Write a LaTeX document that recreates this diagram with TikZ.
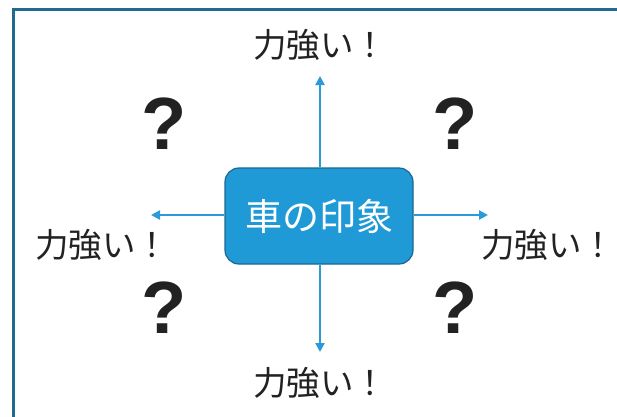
\documentclass[tikz,border=0pt]{standalone}
\usepackage{fontspec}
\newfontfamily\cjk{Noto Sans CJK JP}
\newfontfamily\qfont{Liberation Sans}
\usetikzlibrary{arrows.meta}
\definecolor{frameblue}{HTML}{1F6A8E}
\definecolor{boxfill}{HTML}{1F9AD6}
\definecolor{boxdraw}{HTML}{1A6890}
\definecolor{arrowblue}{HTML}{2A9BD8}
\definecolor{txt}{HTML}{222222}
\tikzset{
  lbl/.style={font=\cjk\fontsize{33.5}{33.5}\selectfont, text=txt, inner sep=0pt},
  qmark/.style={font=\qfont\bfseries\fontsize{74}{74}\selectfont, text=txt, inner sep=0pt},
  centerbox/.style={draw=boxdraw, line width=1.2pt, fill=boxfill, rounded corners=14pt,
    minimum width=188pt, minimum height=96pt, font=\cjk\fontsize{37}{37}\selectfont, text=white},
  arr/.style={draw=arrowblue, line width=2.2pt, -{Triangle[length=9pt,width=9pt]}}
}
\begin{document}
\begin{tikzpicture}[x=1pt,y=-1pt]
\useasboundingbox (0,0) rectangle (617,416);
\draw[frameblue, line width=3pt] (13.5,420) -- (13.5,9.5) -- (620,9.5);
\node[centerbox] (c) at (319,216) {車の印象};
\coordinate (t) at (320,76);
\coordinate (b) at (320,352);
\coordinate (l) at (151,215);
\coordinate (r) at (488,215);
\draw[arr] (c.north -| t) -- (t);
\draw[arr] (c.south -| b) -- (b);
\draw[arr] (c.west |- l) -- (l);
\draw[arr] (c.east |- r) -- (r);
\node[lbl] (lt) at (320,45) {力強い！};
\node[lbl] (lb) at (320,383) {力強い！};
\node[lbl] (ll) at (102,245) {力強い！};
\node[lbl] (lr) at (548,245) {力強い！};
\node[qmark] (q1) at (164,124) {?};
\node[qmark] (q2) at (455,124) {?};
\node[qmark] (q3) at (164,308) {?};
\node[qmark] (q4) at (455,308) {?};
\end{tikzpicture}
\end{document}
